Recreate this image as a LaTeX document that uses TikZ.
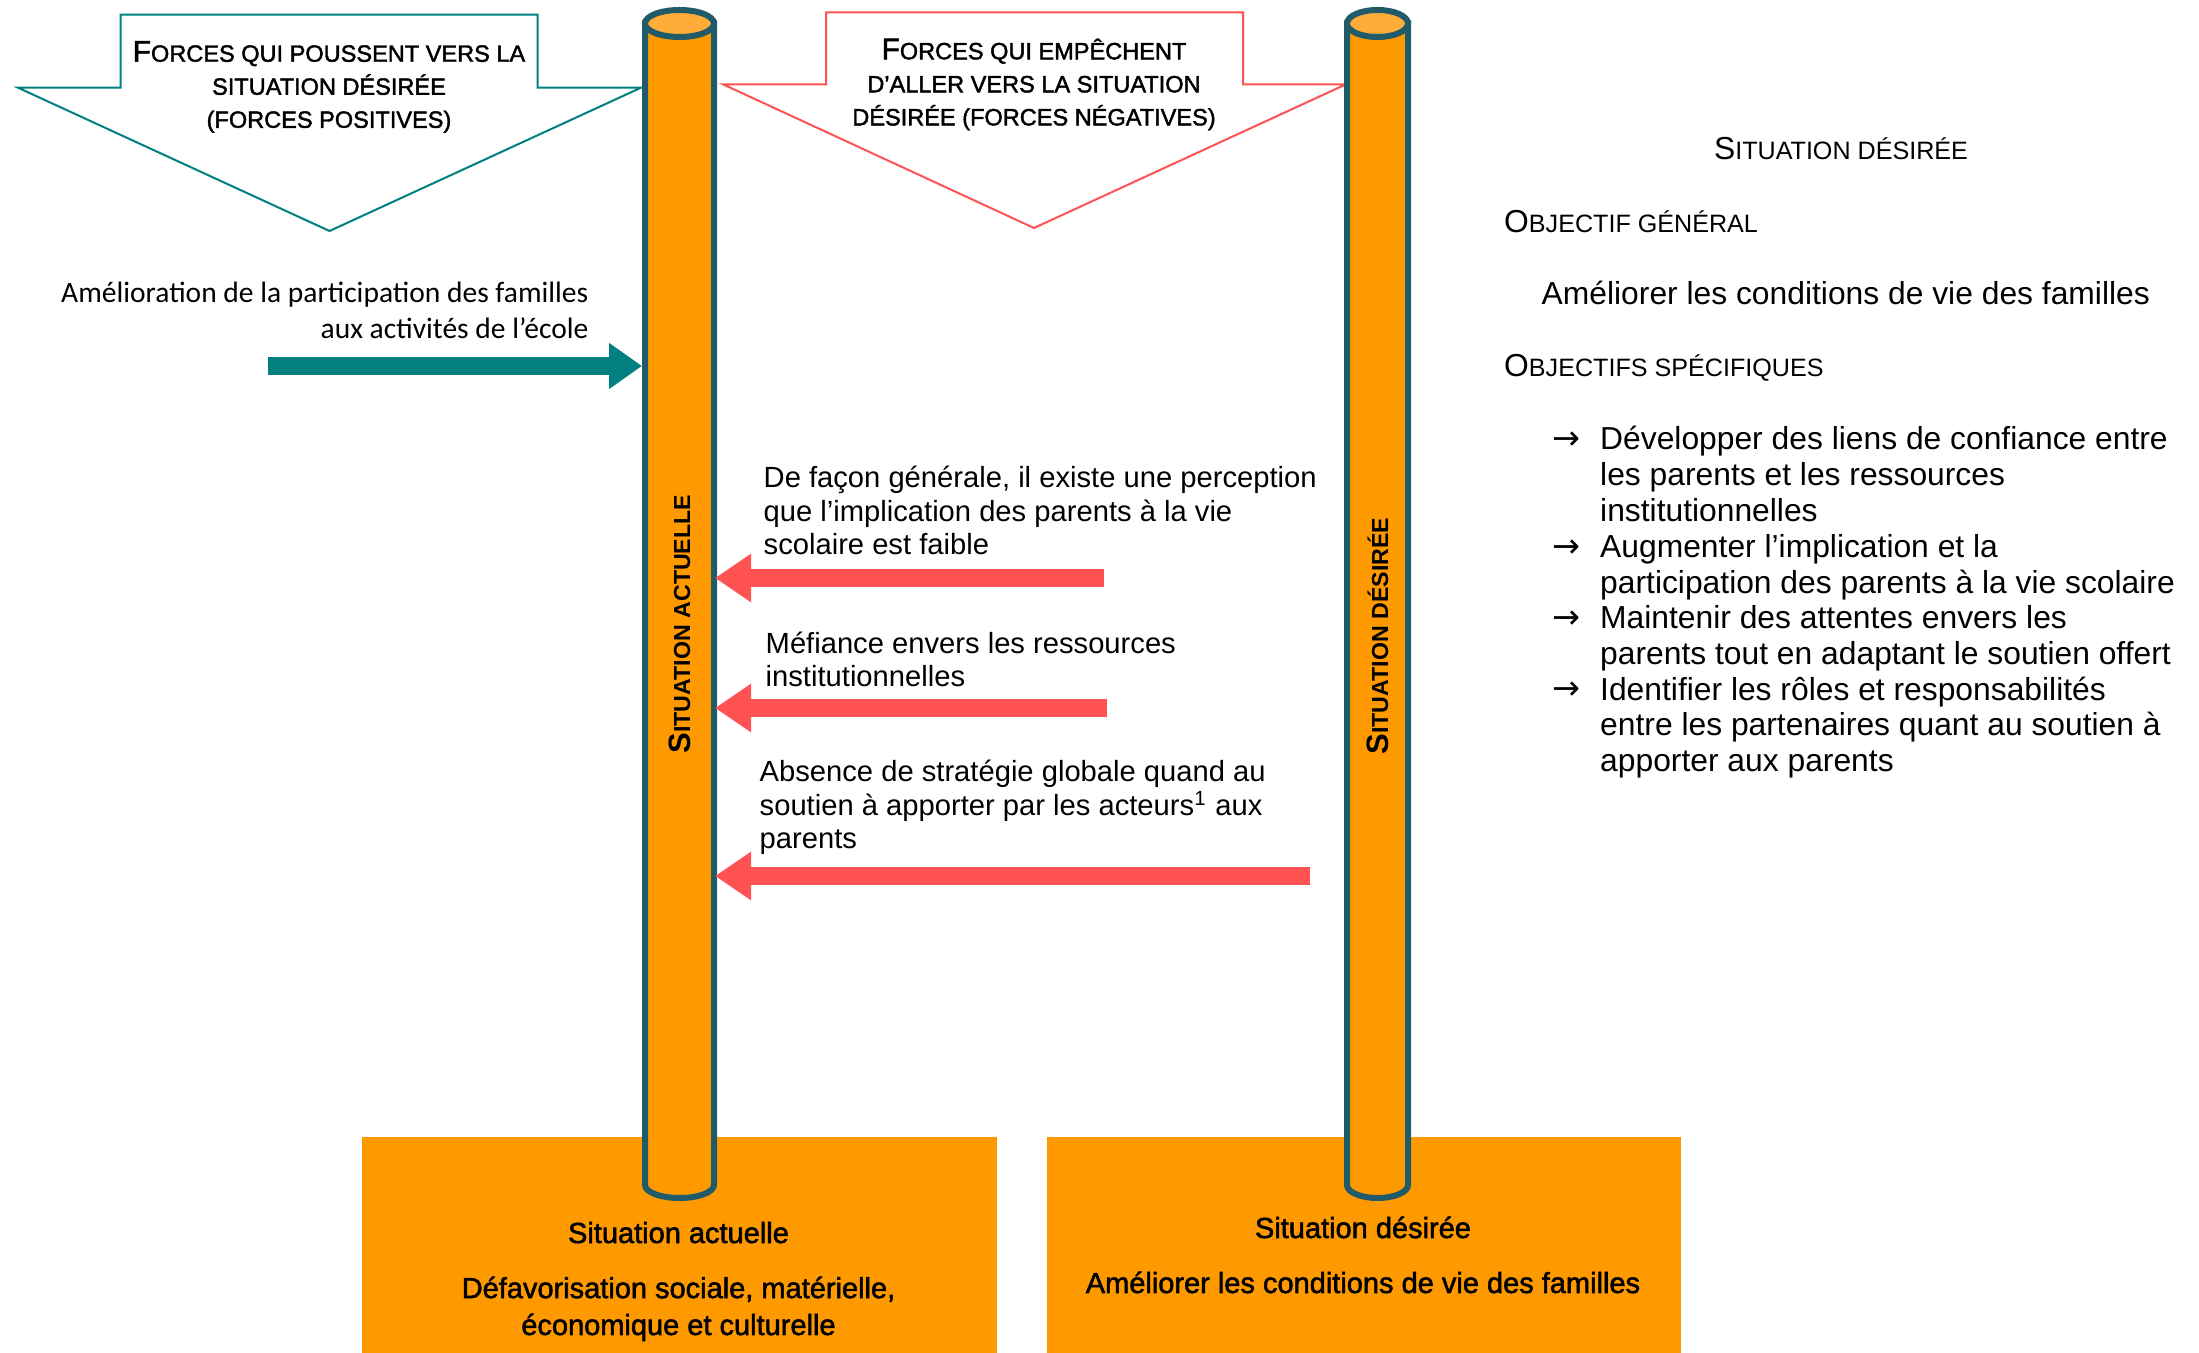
\documentclass[tikz,border=0pt]{standalone}
\usepackage{fontspec}
\setmainfont{Liberation Sans}
\newfontfamily\calfont{Carlito}
\newfontfamily\demifont{Liberation Sans}[FakeBold=1.8]
\newfontfamily\flechefont{DejaVu Sans}
\usepackage{tikz}
\usetikzlibrary{arrows.meta}
\definecolor{orangepilier}{RGB}{255,153,0}
\definecolor{orangeclair}{RGB}{255,172,56}
\definecolor{bordpilier}{RGB}{33,90,105}
\definecolor{sarcelle}{RGB}{0,128,128}
\definecolor{rougeforce}{RGB}{255,82,82}
% petites capitales simulees
\newcommand{\pc}[2][6.7]{{\fontsize{#1}{0}\selectfont #2}}

\begin{document}
\begin{tikzpicture}[x=0.1mm, y=-0.1mm,
  forcepos/.style={draw=sarcelle, line width=0.2mm, fill=white},
  forceneg/.style={draw=rougeforce, line width=0.2mm, fill=white},
  pilier/.style={fill=orangepilier, draw=bordpilier, line width=0.6mm},
  pilierhaut/.style={fill=orangeclair, draw=bordpilier, line width=0.6mm},
  boite/.style={fill=orangepilier, anchor=north west, inner sep=0pt, minimum height=21.7mm},
  fleche pos/.style={draw=sarcelle, line width=1.8mm, -{Triangle[length=3.3mm, width=4.4mm]}},
  fleche neg/.style={draw=rougeforce, line width=1.8mm, -{Triangle[length=3.6mm, width=4.6mm]}},
  entete/.style={align=center, inner sep=0pt, font=\demifont\fontsize{8.5}{9.4}\selectfont},
  etiquette/.style={rotate=90, inner sep=0pt, font=\bfseries\fontsize{8.8}{9}\selectfont},
  force/.style={align=left, anchor=base west, inner sep=0pt, font=\fontsize{8.3}{9.56}\selectfont},
  objectif/.style={align=left, anchor=base west, inner sep=0pt, font=\fontsize{9.05}{10.2}\selectfont},
  puce/.style={anchor=base west, inner sep=0pt, font=\flechefont\fontsize{9.5}{10.2}\selectfont},
  texteboite/.style={align=center, anchor=base, inner sep=0pt, font=\demifont\fontsize{8.25}{10.5}\selectfont}]

\useasboundingbox (0,0) rectangle (2199,1353);
\fill[white] (0,0) rectangle (2199,1353);

% fleches des forces (en haut)
\filldraw[forcepos] (120.5,14.7) -- (537.5,14.7) -- (537.5,87.7) -- (641,87.7)
  -- (329.5,231) -- (18,87.7) -- (120.5,87.7) -- cycle;
\filldraw[forceneg] (826,12.3) -- (1243,12.3) -- (1243,84.3) -- (1346,84.3)
  -- (1034,228) -- (723,84.3) -- (826,84.3) -- cycle;
\node[entete, anchor=base] (titrepos) at (329,127.8)
  {F\pc{ORCES QUI POUSSENT VERS LA}\\ \pc{SITUATION DÉSIRÉE}\\ \pc{(FORCES POSITIVES)}};
\node[entete, anchor=base] (titreneg) at (1034,125.4)
  {F\pc{ORCES QUI EMPÊCHENT}\\ \pc{D’ALLER VERS LA SITUATION}\\ \pc{DÉSIRÉE (FORCES NÉGATIVES)}};

% boites du bas
\node[boite, minimum width=63.5mm] (boiteact) at (361,1136) {};
\node[boite, minimum width=63.4mm] (boitedes) at (1046,1136) {};

% piliers
\filldraw[pilier] (645,23.5) -- (645,1185) arc[start angle=180, end angle=0, x radius=34.5, y radius=13] -- (714,23.5) -- cycle;
\filldraw[pilierhaut] (679.5,23.5) ellipse [x radius=34.5, y radius=13.5];
\filldraw[pilier] (1347,23.5) -- (1347,1185) arc[start angle=180, end angle=0, x radius=30.5, y radius=13] -- (1408,23.5) -- cycle;
\filldraw[pilierhaut] (1377.5,23.5) ellipse [x radius=30.5, y radius=13.5];
\node[etiquette] (labact) at (679.5,624) {S\pc[6.6]{ITUATION ACTUELLE}};
\node[etiquette] (labdes) at (1377.5,636) {S\pc[6.6]{ITUATION DÉSIRÉE}};

\coordinate (actG) at (642,0);
\coordinate (actD) at (715,0);

% force positive
\node[align=right, anchor=base east, inner sep=0pt, font=\calfont\fontsize{8.4}{10.5}\selectfont] (txtpos1) at (589,339)
  {Amélioration de la participation des familles\\ aux activités de l’école};
\coordinate (pos1) at (268,366);
\draw[fleche pos] (pos1) -- (pos1 -| actG);

% forces negatives
\node[force] (txtneg1) at (763,555)
  {De façon générale, il existe une perception\\ que l’implication des parents à la vie\\ scolaire est faible};
\node[force] (txtneg2) at (765,687)
  {Méfiance envers les ressources\\ institutionnelles};
\node[force] (txtneg3) at (759,849)
  {Absence de stratégie globale quand au\\ soutien à apporter par les acteurs\textsuperscript{1} aux\\ parents};
\coordinate (neg1) at (1104,578);
\coordinate (neg2) at (1107,708);
\coordinate (neg3) at (1310,876);
\draw[fleche neg] (neg1) -- (neg1 -| actD);
\draw[fleche neg] (neg2) -- (neg2 -| actD);
\draw[fleche neg] (neg3) -- (neg3 -| actD);

% textes des boites
\node[texteboite] (titreact) at (678.5,1243) {Situation actuelle};
\node[texteboite] (descact) at (678.5,1335) {Défavorisation sociale, matérielle,\\ économique et culturelle};
\node[texteboite] (titredes) at (1363,1238) {Situation désirée};
\node[texteboite] (descdes) at (1363,1293) {Améliorer les conditions de vie des familles};

% situation desiree (droite)
\node[objectif, anchor=base] (sitdes) at (1841,160) {S\pc[7.15]{ITUATION DÉSIRÉE}};
\node[objectif] (objgen) at (1503.5,233) {O\pc[7.15]{BJECTIF GÉNÉRAL}};
\node[objectif] (objgentxt) at (1541,305) {Améliorer les conditions de vie des familles};
\node[objectif] (objspe) at (1503.5,377) {O\pc[7.15]{BJECTIFS SPÉCIFIQUES}};
\node[puce] (puce1) at (1552,450) {→};
\node[objectif] (obj1) at (1599.5,521.7) {Développer des liens de confiance entre\\ les parents et les ressources\\ institutionnelles};
\node[puce] (puce2) at (1552,557.6) {→};
\node[objectif] (obj2) at (1599.5,593.4) {Augmenter l’implication et la\\ participation des parents à la vie scolaire};
\node[puce] (puce3) at (1552,629) {→};
\node[objectif] (obj3) at (1599.5,664.8) {Maintenir des attentes envers les\\ parents tout en adaptant le soutien offert};
\node[puce] (puce4) at (1552,700) {→};
\node[objectif] (obj4) at (1599.5,771.7) {Identifier les rôles et responsabilités\\ entre les partenaires quant au soutien à\\ apporter aux parents};
\end{tikzpicture}
\end{document}
